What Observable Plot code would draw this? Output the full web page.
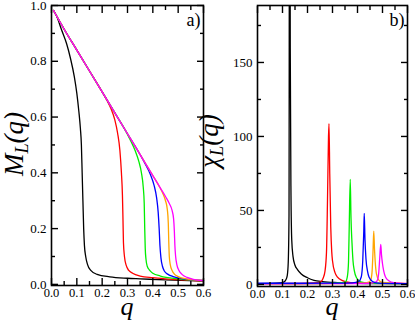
<!DOCTYPE html>
<html>
<head>
<meta charset="utf-8">
<script src="https://cdn.jsdelivr.net/npm/d3@7"></script>
<script src="https://cdn.jsdelivr.net/npm/@observablehq/plot@0.6"></script>
<style>
  html, body { margin: 0; padding: 0; background: #fff; }
  #wrap { position: relative; width: 415px; height: 321px; overflow: hidden; font-family: "Liberation Serif", Tinos, "Times New Roman", serif; }
  #wrap svg { position: absolute; top: 0; }
  #wrap svg text { font-family: "Liberation Serif", Tinos, "Times New Roman", serif !important; }
  .lab { position: absolute; white-space: nowrap; font-style: italic; color: #000; }
  .lab sub { font-size: 0.68em; vertical-align: -0.28em; line-height: 0; }
  .rot { line-height: 0.75; transform: translate(-50%, -50%) rotate(-90deg); }
  .hor { line-height: 0.4; transform: translate(-50%, -50%); }
</style>
</head>
<body>
<div id="wrap">
  <div class="lab rot" style="left:14px; top:144px; font-size:27px;">M<sub>L</sub>(q)</div>
  <div class="lab rot" style="left:209px; top:141px; font-size:27px;">χ<sub>L</sub>(q)</div>
  <div class="lab hor" style="left:127px; top:307px; font-size:26px;">q</div>
  <div class="lab hor" style="left:332px; top:307px; font-size:26px;">q</div>
</div>
<script>
// ---- series names / colours ----
const seriesNames = ["L1", "L2", "L3", "L4", "L5", "L6"];
const seriesColors = ["#000000", "#ff0000", "#00ee00", "#0000ff", "#ffa500", "#ff00ff"];

// ---- panel a) M_L(q) ----
const qM1 = [0.008,0.02,0.04,0.06,0.075,0.09,0.1,0.108,0.114,0.118,0.121,0.124,0.127,0.13,0.135,0.142,0.155,0.18,0.23,0.3,0.35,0.45,0.6];
const M1  = [0.982,0.962,0.912,0.862,0.81,0.745,0.685,0.62,0.56,0.5,0.4,0.3,0.2,0.14,0.1,0.072,0.05,0.036,0.027,0.022,0.02,0.016,0.012];
const qM2 = [0.008,0.05,0.1,0.15,0.2,0.22,0.235,0.25,0.261,0.27,0.276,0.28,0.282,0.284,0.288,0.295,0.305,0.32,0.35,0.4,0.45,0.52,0.6];
const M2  = [0.982,0.915,0.84,0.765,0.69,0.658,0.63,0.59,0.542,0.48,0.4,0.32,0.24,0.15,0.1,0.068,0.05,0.04,0.03,0.024,0.02,0.016,0.012];
const qM3 = [0.008,0.05,0.1,0.15,0.2,0.25,0.29,0.31,0.33,0.345,0.355,0.362,0.366,0.368,0.37,0.373,0.378,0.386,0.4,0.43,0.5,0.6];
const M3  = [0.982,0.915,0.84,0.765,0.69,0.615,0.555,0.52,0.48,0.44,0.4,0.35,0.29,0.2,0.13,0.09,0.065,0.052,0.04,0.03,0.02,0.013];
const qM4 = [0.008,0.05,0.1,0.15,0.2,0.25,0.3,0.35,0.37,0.39,0.405,0.415,0.421,0.425,0.428,0.432,0.438,0.446,0.46,0.48,0.52,0.6];
const M4  = [0.982,0.915,0.84,0.765,0.69,0.615,0.54,0.465,0.432,0.395,0.355,0.31,0.26,0.2,0.14,0.095,0.065,0.047,0.036,0.028,0.02,0.014];
const qM5 = [0.008,0.05,0.1,0.15,0.2,0.25,0.3,0.35,0.4,0.425,0.44,0.45,0.457,0.461,0.463,0.465,0.469,0.476,0.486,0.5,0.53,0.6];
const M5  = [0.982,0.915,0.84,0.765,0.69,0.615,0.54,0.465,0.39,0.352,0.325,0.3,0.27,0.22,0.15,0.1,0.07,0.05,0.036,0.028,0.02,0.014];
const qM6 = [0.008,0.05,0.1,0.15,0.2,0.25,0.3,0.35,0.4,0.43,0.45,0.465,0.476,0.482,0.485,0.487,0.49,0.495,0.503,0.515,0.535,0.56,0.6];
const M6  = [0.982,0.915,0.84,0.765,0.69,0.615,0.54,0.465,0.39,0.345,0.315,0.29,0.265,0.235,0.19,0.14,0.1,0.07,0.05,0.036,0.025,0.018,0.013];

// ---- panel b) chi_L(q) ----
const qC1 = [0,0.05,0.09,0.105,0.113,0.119,0.123,0.126,0.1285,0.131,0.134,0.137,0.142,0.15,0.16,0.175,0.2,0.226,0.26,0.32,0.4,0.5,0.6];
const C1  = [0.6,0.7,1,1.6,3,6,15,46,400,160,60,30,19,13,10,7,4.5,2.8,1.9,1.2,0.8,0.6,0.5];
const qC2 = [0,0.1,0.2,0.24,0.253,0.262,0.27,0.276,0.28,0.284,0.286,0.289,0.293,0.297,0.3,0.31,0.32,0.34,0.373,0.45,0.6];
const C2  = [0.5,0.6,0.8,1.2,1.8,4,9,22,57,100,108.6,75,39,22,16,8,5,2.6,1.2,0.7,0.5];
const qC3 = [0,0.2,0.3,0.34,0.353,0.36,0.364,0.367,0.371,0.374,0.378,0.382,0.387,0.396,0.413,0.45,0.6];
const C3  = [0.5,0.6,0.8,1.2,2,6,15,40,71,45,28,16,9.5,4.5,1.8,0.9,0.5];
const qC4 = [0,0.2,0.3,0.38,0.405,0.415,0.421,0.425,0.427,0.43,0.434,0.44,0.446,0.46,0.48,0.6];
const C4  = [0.8,0.8,0.9,1.1,2,5,16,35,48,30,17,9,5,2,0.9,0.6];
const qC5 = [0,0.3,0.42,0.445,0.453,0.458,0.462,0.465,0.468,0.471,0.476,0.486,0.5,0.6];
const C5  = [0.5,0.6,0.9,1.6,3,8,22,36,24,15,7,2.7,1.3,0.6];
const qC6 = [0,0.3,0.45,0.472,0.48,0.485,0.489,0.493,0.496,0.5,0.505,0.512,0.525,0.545,0.6];
const C6  = [0.4,0.5,0.8,1.5,3,8,18,27,20,14,9,5,2.5,1.2,0.6];

// ---- ticks ----
const xMajor = [0, 0.1, 0.2, 0.3, 0.4, 0.5, 0.6];
const xMinor = [0.05, 0.15, 0.25, 0.35, 0.45, 0.55];
const yMajorA = [0, 0.2, 0.4, 0.6, 0.8, 1.0];
const yMinorA = [0.1, 0.3, 0.5, 0.7, 0.9];
const yMajorB = [0, 50, 100, 150];
const yMinorB = [25, 75, 125, 175];
const panelLabels = ["a)", "b)"];

function rows(qs, vs, order) {
  const out = [];
  for (const i of order) {
    qs[i].forEach((q, j) => out.push({ q, v: vs[i][j], s: seriesNames[i] }));
  }
  return out;
}
const tableA = rows([qM1,qM2,qM3,qM4,qM5,qM6], [M1,M2,M3,M4,M5,M6], [0,1,2,3,4,5]);
const tableB = rows([qC1,qC2,qC3,qC4,qC5,qC6], [C1,C2,C3,C4,C5,C6], [0,1,2,4,5,3]);

const fmt1 = d3.format(".1f");
const serif = "'Liberation Serif', Tinos, 'Times New Roman', serif";

function axes(xMaj, xMin, yMaj, yMin, yFmt) {
  const common = { label: null, strokeWidth: 1.4 };
  return [
    Plot.axisX(xMaj, { ...common, anchor: "bottom", tickSize: -7, tickPadding: 10, tickFormat: fmt1, fontSize: 12.5, fontFamily: serif }),
    Plot.axisX(xMin, { ...common, anchor: "bottom", tickSize: -4, fill: "none" }),
    Plot.axisX(xMaj, { ...common, anchor: "top", tickSize: -7, fill: "none" }),
    Plot.axisX(xMin, { ...common, anchor: "top", tickSize: -4, fill: "none" }),
    Plot.axisY(yMaj, { ...common, anchor: "left", tickSize: -7, tickPadding: 12, tickFormat: yFmt, fontSize: 13, fontFamily: serif }),
    Plot.axisY(yMin, { ...common, anchor: "left", tickSize: -4, fill: "none" }),
    Plot.axisY(yMaj, { ...common, anchor: "right", tickSize: -7, fill: "none" }),
    Plot.axisY(yMin, { ...common, anchor: "right", tickSize: -4, fill: "none" })
  ];
}

const style = { fontFamily: serif, fontSize: "13px", color: "#000", background: "transparent", overflow: "visible" };

const plotA = Plot.plot({
  width: 207, height: 321,
  marginLeft: 51, marginRight: 4, marginTop: 5, marginBottom: 36,
  style,
  x: { domain: [0, 0.6] },
  y: { domain: [-0.004, 1] },
  color: { domain: seriesNames, range: seriesColors },
  marks: [
    Plot.line(tableA, { x: "q", y: "v", z: "s", stroke: "s", strokeWidth: 1.3, curve: "monotone-x" }),
    ...axes(xMajor, xMinor, yMajorA, yMinorA, fmt1),
    Plot.frame({ strokeWidth: 1.6 }),
    Plot.text([panelLabels[0]], { frameAnchor: "top-right", dx: -3, dy: 8, lineAnchor: "top", textAnchor: "end", fontSize: 18, fontFamily: serif })
  ]
});

const plotB = Plot.plot({
  width: 208, height: 321,
  marginLeft: 50, marginRight: 8, marginTop: 5, marginBottom: 35,
  style,
  x: { domain: [0, 0.6] },
  y: { domain: [-1.4, 188.5] },
  color: { domain: seriesNames, range: seriesColors },
  marks: [
    Plot.line(tableB, { x: "q", y: "v", z: "s", stroke: "s", strokeWidth: 1.3, curve: "monotone-x", clip: true }),
    ...axes(xMajor, xMinor, yMajorB, yMinorB, d3.format("d")),
    Plot.frame({ strokeWidth: 1.6 }),
    Plot.text([panelLabels[1]], { frameAnchor: "top-right", dx: -3, dy: 8, lineAnchor: "top", textAnchor: "end", fontSize: 18, fontFamily: serif })
  ]
});

plotA.style.left = "0px";
plotB.style.left = "207px";
const wrap = document.getElementById("wrap");
wrap.insertBefore(plotB, wrap.firstChild);
wrap.insertBefore(plotA, wrap.firstChild);
</script>
</body>
</html>
